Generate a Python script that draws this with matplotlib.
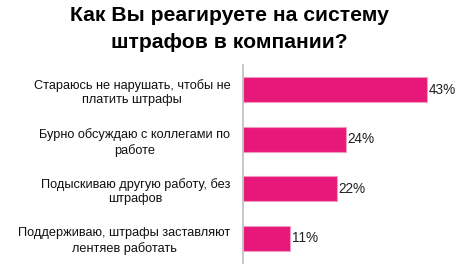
#importing the libraries
import matplotlib
matplotlib.use("Agg")
import matplotlib.pyplot as plt

#data
categories = [
    "Стараюсь не нарушать, чтобы не\nплатить штрафы",
    "Бурно обсуждаю с коллегами по\nработе",
    "Подыскиваю другую работу, без\nштрафов",
    "Поддерживаю, штрафы заставляют\nлентяев работать",
]
values = [43, 24, 22, 11]
value_labels = ["43%", "24%", "22%", "11%"]

title = "Как Вы реагируете на систему\nштрафов в компании?"

#main function
def main():
    plt.rcParams['font.family'] = ['Liberation Sans', 'DejaVu Sans']

    fig = plt.figure(figsize=(4.58, 2.70), dpi=100)
    ax = fig.add_axes([243 / 458, 1 - 263 / 270, 214 / 458, 198 / 270])

    pos = list(range(len(categories)))
    ax.barh(pos, values, height=0.5, color="#E8177A", edgecolor="#F39AC2", linewidth=0.8)

    #value labels at the end of each bar
    for p, v, lab in zip(pos, values, value_labels):
        ax.text(v + 0.4, p, lab, va="center", ha="left", fontsize=9.8, color="#202020")

    ax.set_xlim(0, 50)
    ax.set_ylim(3.5, -0.5)
    ax.set_yticks(pos)
    ax.set_yticklabels(categories, fontsize=9.2, multialignment="center",
                       color="#101010", linespacing=1.3)
    ax.tick_params(axis="y", length=0, pad=9)
    ax.set_xticks([])

    for side in ["top", "right", "bottom"]:
        ax.spines[side].set_visible(False)
    ax.spines["left"].set_color("#BFBFBF")
    ax.spines["left"].set_linewidth(1.2)

    fig.text(0.5, 1 - 29 / 270, title, ha="center", va="center", fontsize=15.2,
             fontweight="bold", linespacing=1.5)

    fig.savefig("out.png", dpi=100)

if __name__ == "__main__":
    main()
